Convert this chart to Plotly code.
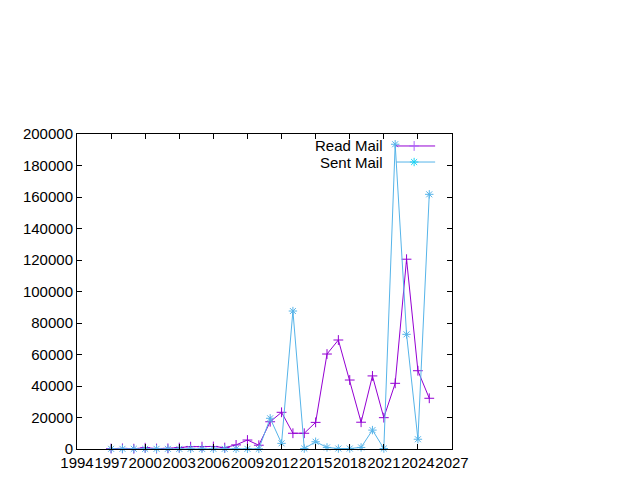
import plotly.graph_objects as go

years = list(range(1997, 2026))
read_mail = [300, 400, 200, 800, 300, 400, 900, 1500, 1500, 1600, 900, 2600, 5700, 2400,
             17300, 23300, 10000, 10000, 16900, 60300, 69200, 43800, 17000, 46400, 19900,
             41700, 120500, 49700, 32200]
sent_mail = [100, 100, 100, 100, 100, 100, 100, 100, 100, 100, 100, 100, 100, 100,
             19500, 3600, 87600, 300, 4600, 1000, 300, 300, 1000, 12000, 300,
             193500, 72800, 6200, 161700]

READ_COLOR = "#9400D3"
SENT_COLOR = "#56B4E9"
FONT = dict(family="Liberation Sans, Arial, sans-serif", size=15, color="black")
MSIZE = 7

fig = go.Figure()
fig.add_trace(go.Scatter(x=years, y=read_mail, mode="lines+markers", name="Read Mail",
                         line=dict(color=READ_COLOR, width=1),
                         marker=dict(symbol="cross-thin-open", size=MSIZE,
                                     line=dict(color=READ_COLOR, width=1)),
                         cliponaxis=False, showlegend=False))
fig.add_trace(go.Scatter(x=years, y=sent_mail, mode="lines+markers", name="Sent Mail",
                         line=dict(color=SENT_COLOR, width=1),
                         marker=dict(symbol="asterisk-open", size=MSIZE,
                                     line=dict(color=SENT_COLOR, width=1)),
                         cliponaxis=False, showlegend=False))

# custom legend (text on left, sample on right, like gnuplot)
legend_items = [("Read Mail", READ_COLOR, "cross-thin-open", 0.962),
                ("Sent Mail", SENT_COLOR, "asterisk-open", 0.911)]
for label, color, sym, yy in legend_items:
    fig.add_trace(go.Scatter(x=[0.851, 0.955], y=[yy, yy], mode="lines",
                             line=dict(color=color, width=1), xaxis="x2", yaxis="y2",
                             showlegend=False, hoverinfo="skip", cliponaxis=False))
    fig.add_trace(go.Scatter(x=[0.899], y=[yy], mode="markers",
                             marker=dict(symbol=sym, size=MSIZE, line=dict(color=color, width=1)),
                             xaxis="x2", yaxis="y2", showlegend=False, hoverinfo="skip",
                             cliponaxis=False))
    fig.add_annotation(text=label, x=0.822, y=yy, xref="x2", yref="y2",
                       xanchor="right", yanchor="middle", showarrow=False, font=FONT)

fig.update_layout(
    width=632, height=472,
    margin=dict(l=69, r=188, t=126, b=31, autoexpand=False),
    paper_bgcolor="white", plot_bgcolor="white",
    font=FONT,
    xaxis=dict(range=[1994, 2027], tick0=1994, dtick=3, showgrid=False, zeroline=False,
               showline=True, linecolor="black", linewidth=1, mirror="allticks",
               ticks="inside", ticklen=5, tickcolor="black", tickfont=FONT,
               tickangle=0, automargin=False),
    yaxis=dict(range=[0, 200000], tick0=0, dtick=20000, showgrid=False, zeroline=False,
               showline=True, linecolor="black", linewidth=1, mirror="allticks",
               ticks="inside", ticklen=5, tickcolor="black", tickfont=FONT,
               tickformat="d", automargin=False),
    xaxis2=dict(range=[0, 1], overlaying="x", visible=False),
    yaxis2=dict(range=[0, 1], overlaying="y", visible=False),
)

fig.write_html("out.html")
